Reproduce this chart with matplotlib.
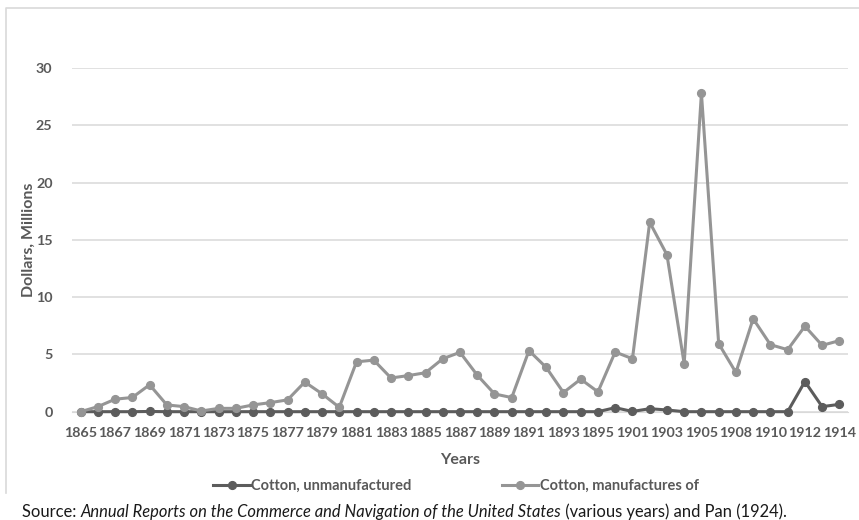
import matplotlib.pyplot as plt
from matplotlib.lines import Line2D

# ==== data ====
years = ['1865', '1866', '1867', '1868', '1869', '1870', '1871', '1872', '1873', '1874',
         '1875', '1876', '1877', '1878', '1879', '1880', '1881', '1882', '1883', '1884',
         '1885', '1886', '1887', '1888', '1889', '1890', '1891', '1892', '1893', '1894',
         '1895', '1896', '1901', '1902', '1903', '1904', '1905', '1906', '1908', '1909',
         '1910', '1911', '1912', '1913', '1914']
unmanufactured = [0.0, 0.0, 0.0, 0.0, 0.02, 0.0, 0.0, 0.0, 0.0, 0.0,
                  0.0, 0.0, 0.0, 0.0, 0.0, 0.0, 0.0, 0.0, 0.0, 0.0,
                  0.0, 0.0, 0.0, 0.0, 0.0, 0.0, 0.0, 0.0, 0.0, 0.0,
                  0.0, 0.35, 0.02, 0.26, 0.15, 0.0, 0.0, 0.0, 0.0, 0.0,
                  0.0, 0.0, 2.63, 0.44, 0.64]
manufactures = [0.0, 0.44, 1.09, 1.24, 2.35, 0.59, 0.44, 0.06, 0.29, 0.29,
                0.59, 0.79, 1.03, 2.59, 1.56, 0.38, 4.35, 4.50, 2.94, 3.15,
                3.40, 4.62, 5.18, 3.19, 1.55, 1.23, 5.33, 3.86, 1.67, 2.84,
                1.73, 5.21, 4.62, 16.53, 13.70, 4.18, 27.80, 5.94, 3.42, 8.11,
                5.85, 5.41, 7.46, 5.79, 6.20]
yticks = [0, 5, 10, 15, 20, 25, 30]

dark = '#5c5c5c'
light = '#959595'
txt = '#595959'

plt.rcParams['font.family'] = ['Lato', 'DejaVu Sans']

fig = plt.figure(figsize=(8.59, 5.2), dpi=100)
# chart frame (only the left and top edges show in the crop)
fig.lines.append(Line2D([6 / 859, 6 / 859, 1.0], [1 - 493 / 520, 1 - 8 / 520, 1 - 8 / 520],
                        transform=fig.transFigure, color='#d9d9d9', lw=1.2))

ax = fig.add_axes([0.0838, 0.2083, 0.9034, 0.661])
x = list(range(len(years)))
ax.plot(x, unmanufactured, color=dark, lw=2.2, marker='o', ms=5.6,
        label='Cotton, unmanufactured', clip_on=False, zorder=3)
ax.plot(x, manufactures, color=light, lw=2.2, marker='o', ms=5.6,
        label='Cotton, manufactures of', clip_on=False, zorder=4)

ax.set_xlim(-0.5, len(years) - 0.5)
ax.set_ylim(0, 30)
ax.set_yticks(yticks)
ax.set_xticks(x[::2])
ax.set_xticklabels(years[::2])
ax.grid(axis='y', color='#d9d9d9', lw=1.1)
ax.set_axisbelow(True)
for s in ['top', 'right', 'left']:
    ax.spines[s].set_visible(False)
ax.spines['bottom'].set_color('#d9d9d9')
ax.tick_params(length=0, labelsize=10.3, labelcolor=txt)
ax.tick_params(axis='y', pad=14)
ax.tick_params(axis='x', pad=11)
for lab in ax.get_xticklabels() + ax.get_yticklabels():
    lab.set_fontweight('bold')

ax.set_xlabel('Years', fontsize=11.5, fontweight='bold', color=txt, labelpad=10)
ax.set_ylabel('Dollars, Millions', fontsize=11.5, fontweight='bold', color=txt, labelpad=0)

fig.legend(loc='center', bbox_to_anchor=(0.531, 1 - 486 / 520), ncol=2, frameon=False,
           handlelength=2.5, handletextpad=0.1, columnspacing=6.2,
           labelcolor=txt, prop={'weight': 'bold', 'size': 10.5})

# source line, mixed roman / italic
t1 = fig.text(22 / 859, 1 - 517 / 520, 'Source: ', fontsize=11.9, color='#1a1a1a', va='baseline')
t2 = ax.annotate('Annual Reports on the Commerce and Navigation of the United States',
                 xycoords=t1, xy=(1, 0), va='bottom', fontsize=11.9, style='italic',
                 color='#1a1a1a', annotation_clip=False)
t3 = ax.annotate(' (various years) and Pan (1924).', xycoords=t2, xy=(1, 0), va='bottom',
                 fontsize=11.9, color='#1a1a1a', annotation_clip=False)

fig.savefig('out.png', dpi=100)
